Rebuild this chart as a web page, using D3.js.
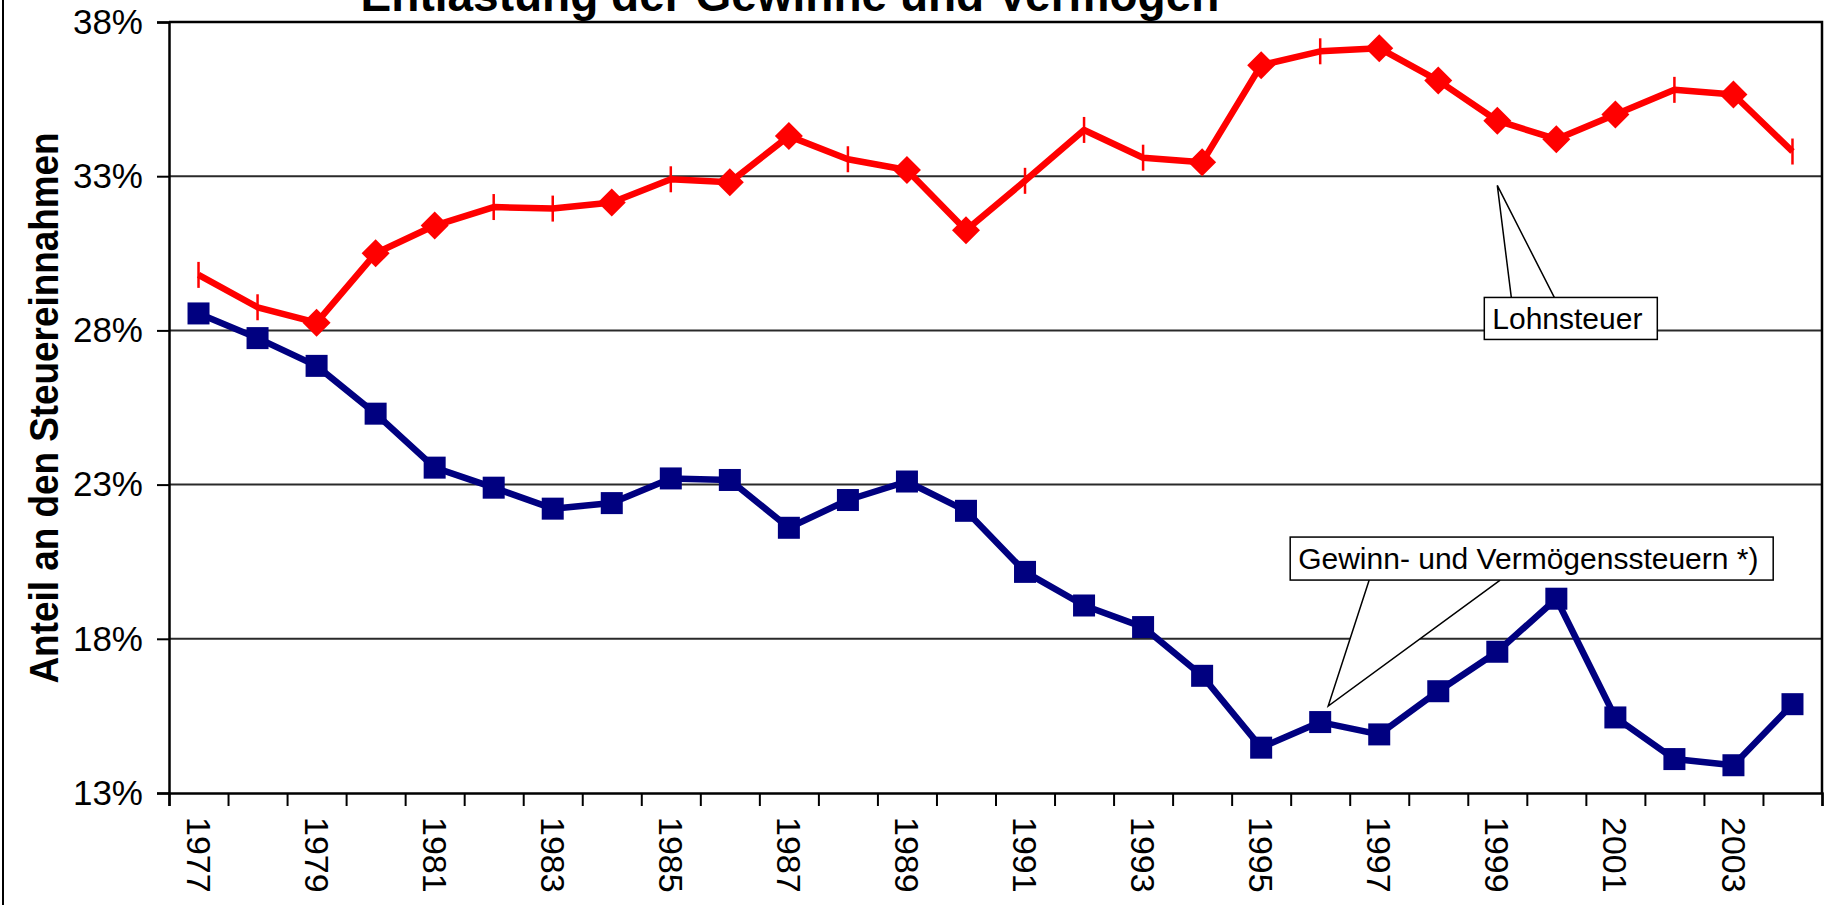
<!DOCTYPE html>
<html lang="de">
<head>
    <meta charset="UTF-8">
    <title>Entlastung der Gewinne und Vermögen</title>
    <script src="https://d3js.org/d3.v7.min.js"></script>
    <style>
        body { margin: 0; background: #fff; }
        text { font-family: "Liberation Sans", Arial, sans-serif; }
        .grid line { stroke: #2a2a2a; stroke-width: 2px; }
    </style>
</head>
<body>
<svg id="chart" width="1831" height="905"></svg>

<script>
    // Daten
    const years = d3.range(1977, 2005);
    const lohnsteuer = [29.8, 28.75, 28.25, 30.5, 31.4, 32.0, 31.95, 32.15, 32.9, 32.8,
        34.3, 33.55, 33.2, 31.25, 32.85, 34.5, 33.6, 33.45, 36.6, 37.05,
        37.15, 36.1, 34.8, 34.2, 35.0, 35.8, 35.65, 33.8];
    const gewinnsteuern = [28.55, 27.75, 26.85, 25.3, 23.55, 22.9, 22.22, 22.4, 23.2, 23.15,
        21.6, 22.5, 23.1, 22.15, 20.17, 19.08, 18.38, 16.8, 14.47, 15.3,
        14.9, 16.3, 17.58, 19.3, 15.45, 14.1, 13.9, 15.88];
    // welche Punkte der Lohnsteuer-Reihe eine Raute zeigen (sonst nur Strich)
    const lohnMarker = ["t", "t", "d", "d", "d", "t", "t", "d", "t", "d",
        "d", "t", "d", "d", "t", "t", "t", "d", "d", "t",
        "d", "d", "d", "d", "d", "t", "d", "t"];
    const yTicks = [13, 18, 23, 28, 33, 38];
    const labelYears = years.filter(y => y % 2 === 1);

    const title = "Entlastung der Gewinne und Vermögen";
    const yTitle = "Anteil an den Steuereinnahmen";

    const svg = d3.select("#chart");
    const plotLeft = 169, plotRight = 1822, plotTop = 22, plotBottom = 793;

    const x = d3.scaleLinear().domain([1976.5, 2004.5]).range([plotLeft, plotRight]);
    const y = d3.scaleLinear().domain([13, 38]).range([plotBottom, plotTop]);

    // äußerer Rahmen (links)
    svg.append("line")
        .attr("x1", 3).attr("x2", 3).attr("y1", 0).attr("y2", 905)
        .attr("stroke", "#000").attr("stroke-width", 2);

    // Titel (oben abgeschnitten, wie im Original)
    svg.append("text")
        .attr("x", 790).attr("y", 11)
        .attr("text-anchor", "middle")
        .style("font-size", "46px").style("font-weight", "bold")
        .text(title);

    // Gitterlinien
    svg.append("g").attr("class", "grid")
        .selectAll("line")
        .data(yTicks.filter(t => t > 13 && t < 38))
        .join("line")
        .attr("x1", plotLeft).attr("x2", plotRight)
        .attr("y1", d => y(d)).attr("y2", d => y(d));

    // Rahmen oben / rechts
    svg.append("path")
        .attr("d", `M${plotLeft},${y(38)}H${plotRight}V${y(13)}`)
        .attr("fill", "none").attr("stroke", "#000").attr("stroke-width", 2.5);

    // y-Achse
    const yAxis = svg.append("g")
        .attr("transform", `translate(${plotLeft},0)`)
        .call(d3.axisLeft(y).tickValues(yTicks).tickFormat(d => d + "%").tickSize(12).tickPadding(14));
    yAxis.select(".domain").attr("stroke-width", 2.5);
    yAxis.selectAll(".tick line").attr("stroke-width", 2);
    yAxis.selectAll("text")
        .style("font-size", "35px")
        .style("font-family", "'Liberation Sans', Arial, sans-serif")
        .attr("fill", "#000");

    // x-Achse: Striche an den Kategoriegrenzen
    const xAxis = svg.append("g")
        .attr("transform", `translate(0,${plotBottom})`)
        .call(d3.axisBottom(x).tickValues(d3.range(1976.5, 2005, 1)).tickSize(13).tickFormat(""));
    xAxis.select(".domain").attr("stroke-width", 2.5);
    xAxis.selectAll(".tick line").attr("stroke-width", 2);

    // Jahreszahlen (gedreht)
    svg.append("g")
        .selectAll("text")
        .data(labelYears)
        .join("text")
        .attr("transform", d => `translate(${x(d)},${plotBottom + 24}) rotate(90)`)
        .attr("dy", "0.35em")
        .style("font-size", "34px")
        .text(d => d);

    // y-Achsentitel
    svg.append("text")
        .attr("transform", "translate(44,408) rotate(-90)")
        .attr("text-anchor", "middle")
        .attr("dy", "0.35em")
        .attr("textLength", 551)
        .attr("lengthAdjust", "spacingAndGlyphs")
        .style("font-size", "41px").style("font-weight", "bold")
        .text(yTitle);

    const line = d3.line().x((d, i) => x(years[i])).y(d => y(d));

    // Gewinn- und Vermögenssteuern
    svg.append("path")
        .datum(gewinnsteuern)
        .attr("d", line)
        .attr("fill", "none").attr("stroke", "#000080")
        .attr("stroke-width", 6.5).attr("stroke-linejoin", "round");
    svg.append("g")
        .selectAll("rect")
        .data(gewinnsteuern)
        .join("rect")
        .attr("x", (d, i) => x(years[i]) - 11)
        .attr("y", d => y(d) - 11)
        .attr("width", 22).attr("height", 22)
        .attr("fill", "#000080");

    // Lohnsteuer
    svg.append("path")
        .datum(lohnsteuer)
        .attr("d", line)
        .attr("fill", "none").attr("stroke", "#ff0000")
        .attr("stroke-width", 6.5).attr("stroke-linejoin", "round");
    const lm = svg.append("g")
        .selectAll("g")
        .data(lohnsteuer)
        .join("g")
        .attr("transform", (d, i) => `translate(${x(years[i])},${y(d)})`);
    lm.filter((d, i) => lohnMarker[i] === "d")
        .append("path")
        .attr("d", "M0,-14L14,0L0,14L-14,0Z")
        .attr("fill", "#ff0000");
    lm.filter((d, i) => lohnMarker[i] === "t")
        .append("line")
        .attr("y1", -13).attr("y2", 13)
        .attr("stroke", "#ff0000").attr("stroke-width", 2.5);

    // Beschriftungen mit Legendenlinien
    const callouts = [
        { text: "Lohnsteuer", ax: x(1999), ay: y(32.7),
          box: [-13, 112, 173, 42], base: [14, 57] },
        { text: "Gewinn- und Vermögenssteuern *)", ax: x(1996) + 8, ay: y(gewinnsteuern[19]) - 16,
          box: [-38, -169, 483, 43], base: [41, 172] }
    ];
    callouts.forEach(c => {
        const bx = c.ax + c.box[0], by = c.ay + c.box[1];
        const edge = c.box[1] > 0 ? by : by + c.box[3];
        svg.append("path")
            .attr("d", `M${c.ax + c.base[0]},${edge}L${c.ax},${c.ay}L${c.ax + c.base[1]},${edge}`)
            .attr("fill", "#fff").attr("stroke", "#000").attr("stroke-width", 1.5);
        svg.append("rect")
            .attr("x", bx).attr("y", by)
            .attr("width", c.box[2]).attr("height", c.box[3])
            .attr("fill", "#fff").attr("stroke", "#000").attr("stroke-width", 1.5);
        svg.append("text")
            .attr("x", bx + 8).attr("y", by + c.box[3] / 2)
            .attr("dy", "0.36em")
            .style("font-size", "30px")
            .text(c.text);
    });
</script>
</body>
</html>
